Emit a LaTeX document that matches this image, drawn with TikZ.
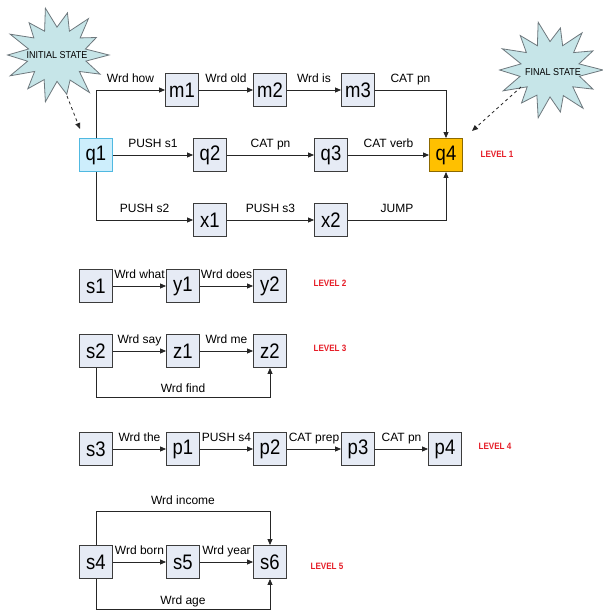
\documentclass[tikz,border=0pt]{standalone}
\usepackage{fontspec}
\usepackage{graphicx}
\setmainfont{Liberation Sans}
\newfontfamily\narrowfont{Liberation Sans}[FakeStretch=0.88]
\usetikzlibrary{arrows.meta}
\definecolor{boxfill}{RGB}{230,235,245}
\definecolor{boxline}{RGB}{60,60,60}
\definecolor{startfill}{RGB}{205,238,252}
\definecolor{startline}{RGB}{80,185,225}
\definecolor{endfill}{RGB}{255,192,0}
\definecolor{endline}{RGB}{140,105,0}
\definecolor{starfill}{RGB}{198,229,232}
\definecolor{starline}{RGB}{110,120,125}
\definecolor{lvl}{RGB}{230,30,40}
\begin{document}
\begin{tikzpicture}[x=1pt,y=-1pt,
  state/.style={draw=boxline,fill=boxfill,line width=0.9pt,minimum width=33pt,minimum height=33pt,inner sep=0pt,font=\narrowfont\fontsize{21}{21}\selectfont},
  startstate/.style={state,draw=startline,fill=startfill},
  endstate/.style={state,draw=endline,fill=endfill},
  arr/.style={-{Triangle[length=6pt,width=5pt]},line width=0.8pt,draw=black!85},
  dasharr/.style={arr,dashed},
  lab/.style={font=\fontsize{12}{12}\selectfont,inner sep=0pt,text height=9pt,text depth=2.5pt},
  lvllab/.style={font=\narrowfont\bfseries\fontsize{9.2}{9.2}\selectfont,text=lvl,inner sep=0pt},
  starst/.style={draw=starline,fill=starfill,line width=0.8pt,line join=miter},
  startext/.style={font=\fontsize{10}{10}\selectfont,inner sep=0pt}
]
\useasboundingbox[fill=white] (0,0) rectangle (602,610);

% starbursts
\begin{scope}[shift={(57,55)}]
\draw[starst] (0:52 and 48)
  \foreach \a/\f in {12.86/0.57,25.7/0.92,38.6/0.55,51.4/1,64.3/0.58,77.1/0.84,90/0.55,102.9/1,115.7/0.57,128.6/0.9,141.4/0.55,154.3/1,167.1/0.58,180/0.95,192.9/0.56,205.7/1,218.6/0.57,231.4/0.86,244.3/0.55,257.1/1,270/0.58,282.9/0.9,295.7/0.55,308.6/0.97,321.4/0.57,334.3/0.84,347.1/0.56}
  { -- (\a:{\f*52} and {\f*48}) } -- cycle;
\end{scope}
\node[startext] (init) at (57,55) {\scalebox{0.9}[1]{INITIAL STATE}};

\begin{scope}[shift={(550,70)}]
\draw[starst] (0:53 and 49)
  \foreach \a/\f in {12.86/0.57,25.7/0.9,38.6/0.55,51.4/1,64.3/0.58,77.1/0.88,90/0.55,102.9/1,115.7/0.57,128.6/0.86,141.4/0.55,154.3/0.98,167.1/0.58,180/0.95,192.9/0.56,205.7/1,218.6/0.57,231.4/0.9,244.3/0.55,257.1/1,270/0.58,282.9/0.88,295.7/0.55,308.6/0.97,321.4/0.57,334.3/0.9,347.1/0.56}
  { -- (\a:{\f*53} and {\f*49}) } -- cycle;
\end{scope}
\node[startext] (final) at (553,72) {\scalebox{0.9}[1]{FINAL STATE}};

% level 1
\node[startstate] (q1) at (96,155) {q1};
\node[state] (m1) at (182,90) {m1};
\node[state] (m2) at (270,90) {m2};
\node[state] (m3) at (358,90) {m3};
\node[state] (q2) at (210,155) {q2};
\node[state] (q3) at (331,155) {q3};
\node[endstate] (q4) at (446,155) {q4};
\node[state] (x1) at (210,220) {x1};
\node[state] (x2) at (331,220) {x2};
\node[lvllab] (l1) at (497,154) {LEVEL 1};

\coordinate (initend) at (80,129);
\coordinate (initstart) at (67,96);
\coordinate (finalstart) at (521,87);
\coordinate (finalend) at (472,131);
\draw[dasharr] (initstart) -- (initend);
\draw[dasharr] (finalstart) -- (finalend);

\draw[arr] (q1.north) |- node[lab,above=5pt,pos=0.75]{Wrd how} (m1.west);
\draw[arr] (m1) -- node[lab,above=5pt]{Wrd old} (m2);
\draw[arr] (m2) -- node[lab,above=5pt]{Wrd is} (m3);
\draw[arr] (m3.east) -| node[lab,above=5pt,pos=0.25]{CAT pn} (q4.north);
\draw[arr] (q1) -- node[lab,above=5pt]{PUSH s1} (q2);
\draw[arr] (q2) -- node[lab,above=5pt]{CAT pn} (q3);
\draw[arr] (q3) -- node[lab,above=5pt]{CAT verb} (q4);
\draw[arr] (q1.south) |- node[lab,above=5pt,pos=0.75]{PUSH s2} (x1.west);
\draw[arr] (x1) -- node[lab,above=5pt]{PUSH s3} (x2);
\draw[arr] (x2.east) -| node[lab,above=5pt,pos=0.25]{JUMP} (q4.south);

% level 2
\node[state] (s1) at (96,286) {s1};
\node[state] (y1) at (183,286) {y1};
\node[state] (y2) at (270,286) {y2};
\node[lvllab] (l2) at (330,283) {LEVEL 2};
\draw[arr] (s1) -- node[lab,above=5pt]{Wrd what} (y1);
\draw[arr] (y1) -- node[lab,above=5pt]{Wrd does} (y2);

% level 3
\node[state] (s2) at (96,351) {s2};
\node[state] (z1) at (183,351) {z1};
\node[state] (z2) at (270,351) {z2};
\node[lvllab] (l3) at (330,348) {LEVEL 3};
\draw[arr] (s2) -- node[lab,above=5pt]{Wrd say} (z1);
\draw[arr] (z1) -- node[lab,above=5pt]{Wrd me} (z2);
\draw[arr] (s2.south) -- ++(0,29) -| node[lab,above=2pt,pos=0.25]{Wrd find} (z2.south);

% level 4
\node[state] (s3) at (96,449) {s3};
\node[state] (p1) at (183,449) {p1};
\node[state] (p2) at (270,449) {p2};
\node[state] (p3) at (358,449) {p3};
\node[state] (p4) at (445,449) {p4};
\node[lvllab] (l4) at (495,446) {LEVEL 4};
\draw[arr] (s3) -- node[lab,above=5pt]{Wrd the} (p1);
\draw[arr] (p1) -- node[lab,above=5pt]{PUSH s4} (p2);
\draw[arr] (p2) -- node[lab,above=5pt]{CAT prep} (p3);
\draw[arr] (p3) -- node[lab,above=5pt]{CAT pn} (p4);

% level 5
\node[state] (s4) at (96,562) {s4};
\node[state] (s5) at (183,562) {s5};
\node[state] (s6) at (270,562) {s6};
\node[lvllab] (l5) at (327,566) {LEVEL 5};
\draw[arr] (s4) -- node[lab,above=5pt]{Wrd born} (s5);
\draw[arr] (s5) -- node[lab,above=5pt]{Wrd year} (s6);
\draw[arr] (s4.north) -- ++(0,-34) -| node[lab,above=4pt,pos=0.25]{Wrd income} (s6.north);
\draw[arr] (s4.south) -- ++(0,30) -| node[lab,above=2pt,pos=0.25]{Wrd age} (s6.south);
\end{tikzpicture}
\end{document}
